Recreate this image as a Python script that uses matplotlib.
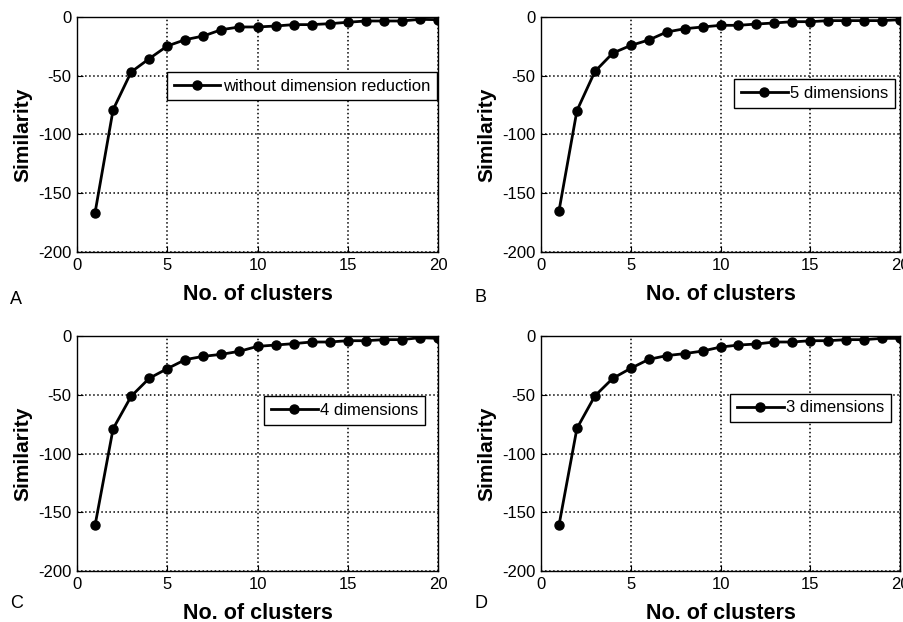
import matplotlib
matplotlib.use("Agg")
import matplotlib.pyplot as plt

plt.rcParams['font.family'] = ['Liberation Sans', 'DejaVu Sans']
plt.rcParams['axes.unicode_minus'] = False

clusters = list(range(1, 21))

sim_a = [-166.5, -78.9, -46.8, -35.5, -24.7, -19.3, -16.2, -10.8, -8.5, -8.5,
         -7.7, -6.5, -6.5, -5.7, -4.5, -3.4, -3.4, -3.4, -2.0, -2.3]
sim_b = [-165.0, -79.7, -46.4, -30.7, -24.2, -19.6, -12.8, -10.0, -8.5, -7.1,
         -7.1, -6.0, -5.1, -4.0, -4.0, -3.1, -3.1, -3.1, -3.1, -2.3]
sim_c = [-161.0, -78.9, -51.3, -36.0, -27.8, -20.1, -17.3, -15.6, -13.0, -8.8,
         -7.7, -6.5, -5.1, -5.1, -4.0, -4.0, -3.1, -3.1, -1.4, -2.0]
sim_d = [-161.0, -78.6, -51.0, -36.0, -27.5, -19.9, -16.7, -15.0, -12.8, -9.4,
         -7.7, -6.8, -5.1, -5.1, -4.0, -4.0, -3.1, -3.1, -2.0, -2.0]

legend_names = ["without dimension reduction", "5 dimensions", "4 dimensions", "3 dimensions"]
panel_letters = ["A", "B", "C", "D"]
xticks = [0, 5, 10, 15, 20]
yticks = [0, -50, -100, -150, -200]

fig = plt.figure(figsize=(9.04, 6.22), dpi=100)

# axes rectangles (left, bottom, width, height) in figure fraction
rects = [
    [0.0852, 0.5949, 0.3993, 0.3778],
    [0.5985, 0.5949, 0.3971, 0.3778],
    [0.0852, 0.0820, 0.3993, 0.3778],
    [0.5985, 0.0820, 0.3971, 0.3778],
]
leg_anchor = [(0.997, 0.706), (0.986, 0.674), (0.964, 0.683), (0.975, 0.694)]
letter_pos = [(0.011, 0.512), (0.525, 0.515), (0.011, 0.023), (0.525, 0.023)]

for i, sims in enumerate([sim_a, sim_b, sim_c, sim_d]):
    ax = fig.add_axes(rects[i])
    ax.plot(clusters, sims, '-o', color='black', lw=2.0, ms=6.5,
            label=legend_names[i])
    ax.set_xlim(0, 20)
    ax.set_ylim(-200, 0)
    ax.set_xticks(xticks)
    ax.set_yticks(yticks)
    ax.tick_params(direction='in', length=4, labelsize=12, pad=4, width=0.8)
    ax.grid(True, linestyle=':', color='black', lw=1.1)
    for sp in ax.spines.values():
        sp.set_linewidth(1.0)
    ax.set_xlabel("No. of clusters", fontsize=15.5, fontweight='bold', labelpad=8)
    ax.set_ylabel("Similarity", fontsize=15, fontweight='bold', labelpad=4)
    leg = ax.legend(loc='center right', bbox_to_anchor=leg_anchor[i],
                    fancybox=False, framealpha=1, edgecolor='black',
                    fontsize=12, handlelength=2.8, borderpad=0.4,
                    borderaxespad=0, handletextpad=0.15)
    leg.get_frame().set_linewidth(1.0)
    fig.text(letter_pos[i][0], letter_pos[i][1], panel_letters[i], fontsize=13)

plt.savefig("out.png", dpi=100)
